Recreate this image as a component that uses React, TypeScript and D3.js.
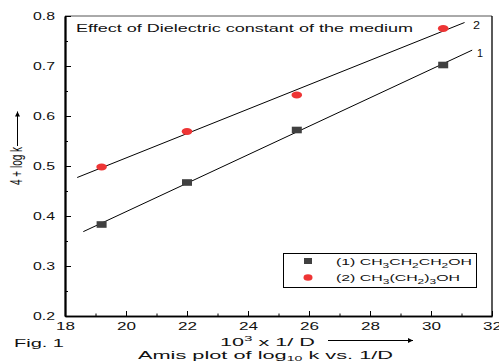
import React, { useEffect, useRef } from "react";
import * as d3 from "d3";

// 10^3 x 1/D for the solvent mixtures
const invD = [19.2, 22.0, 25.6, 30.4];
// 4 + log k
const propanol = [0.383, 0.467, 0.572, 0.702];
const butanol = [0.498, 0.569, 0.642, 0.775];
// x range over which the fitted lines are drawn
const fitRange1 = [18.6, 31.35];
const fitRange2 = [18.4, 31.1];

const xTicks = [18, 20, 22, 24, 26, 28, 30, 32];
const xMinor = [19, 21, 23, 25, 27, 29, 31];
const yTicks = [0.2, 0.3, 0.4, 0.5, 0.6, 0.7, 0.8];
const yMinor = [0.25, 0.35, 0.45, 0.55, 0.65, 0.75];

const FONT = "'Liberation Sans', Arial, sans-serif";

const fit = (xs: number[], ys: number[]) => {
  const mx = d3.mean(xs) as number;
  const my = d3.mean(ys) as number;
  const sxy = d3.sum(xs, (x, i) => (x - mx) * (ys[i] - my));
  const sxx = d3.sum(xs, (x) => (x - mx) * (x - mx));
  const slope = sxy / sxx;
  return { slope, intercept: my - slope * mx };
};

const App: React.FC = () => {
  const ref = useRef<SVGSVGElement | null>(null);

  useEffect(() => {
    const svg = d3.select(ref.current);
    svg.selectAll("*").remove();

    const left = 65, right = 492, top = 16, bottom = 316;
    const x = d3.scaleLinear().domain([18, 32]).range([left, right]);
    const y = d3.scaleLinear().domain([0.2, 0.8]).range([bottom, top]);

    svg
      .append("defs")
      .append("marker")
      .attr("id", "ah")
      .attr("viewBox", "0 0 10 10")
      .attr("refX", 10)
      .attr("refY", 5)
      .attr("markerWidth", 10)
      .attr("markerHeight", 5)
      .attr("markerUnits", "userSpaceOnUse")
      .attr("orient", "auto")
      .append("path")
      .attr("d", "M0,0L10,5L0,10z")
      .attr("fill", "#000");

    // frame
    svg.append("line").attr("x1", left).attr("x2", right).attr("y1", top).attr("y2", top)
      .attr("stroke", "#555").attr("stroke-width", 1);
    svg.append("line").attr("x1", right).attr("x2", right).attr("y1", top).attr("y2", bottom)
      .attr("stroke", "#000").attr("stroke-width", 1.3);

    // x axis
    const gx = svg.append("g").attr("transform", `translate(0,${bottom})`);
    gx.call(
      d3.axisBottom(x).tickValues(xTicks).tickSizeInner(-5).tickSizeOuter(0).tickPadding(7)
        .tickFormat(d3.format("d"))
    );
    gx.append("g").call(
      d3.axisBottom(x).tickValues(xMinor).tickSizeInner(-2.5).tickSizeOuter(0).tickFormat(() => "")
    );
    gx.selectAll(".domain").attr("stroke-width", 1.6);
    gx.selectAll("text")
      .attr("font-family", FONT).attr("font-size", 10).attr("fill", "#111")
      .attr("textLength", 19).attr("lengthAdjust", "spacingAndGlyphs");

    // y axis
    const gy = svg.append("g").attr("transform", `translate(${left},0)`);
    gy.call(
      d3.axisLeft(y).tickValues(yTicks).tickSizeInner(-6).tickSizeOuter(0).tickPadding(10)
        .tickFormat(d3.format(".1f"))
    );
    gy.append("g").call(
      d3.axisLeft(y).tickValues(yMinor).tickSizeInner(-3).tickSizeOuter(0).tickFormat(() => "")
    );
    gy.selectAll(".domain").attr("stroke-width", 1.8);
    gy.selectAll("text")
      .attr("font-family", FONT).attr("font-size", 10).attr("fill", "#111")
      .attr("textLength", 22).attr("lengthAdjust", "spacingAndGlyphs");

    // fitted lines
    const drawFit = (xs: number[], ys: number[], range: number[]) => {
      const f = fit(xs, ys);
      svg.append("line")
        .attr("x1", x(range[0])).attr("y1", y(f.intercept + f.slope * range[0]))
        .attr("x2", x(range[1])).attr("y2", y(f.intercept + f.slope * range[1]))
        .attr("stroke", "#000").attr("stroke-width", 1);
    };
    drawFit(invD, propanol, fitRange1);
    drawFit(invD, butanol, fitRange2);

    // markers
    svg.append("g").selectAll("rect").data(invD).join("rect")
      .attr("x", (d) => x(d) - 5).attr("y", (d, i) => y(propanol[i]) - 3.3)
      .attr("width", 10).attr("height", 6.6).attr("fill", "#404040");
    svg.append("g").selectAll("ellipse").data(invD).join("ellipse")
      .attr("cx", (d) => x(d)).attr("cy", (d, i) => y(butanol[i]))
      .attr("rx", 5.3).attr("ry", 3.4).attr("fill", "#ee3535");

    const text = (tx: number, ty: number, s: string, size: number, len: number) =>
      svg.append("text").attr("x", tx).attr("y", ty).text(s)
        .attr("font-family", FONT).attr("font-size", size).attr("fill", "#111")
        .attr("textLength", len).attr("lengthAdjust", "spacingAndGlyphs");

    text(76, 32, "Effect of Dielectric constant of the medium", 11, 337);
    text(473, 29, "2", 10, 7);
    text(477, 57, "1", 10, 6);
    text(14, 347, "Fig. 1", 11, 50);

    // legend
    svg.append("rect").attr("x", 283.5).attr("y", 253.5).attr("width", 193).attr("height", 34)
      .attr("fill", "#fff").attr("stroke", "#000").attr("stroke-width", 1);
    svg.append("rect").attr("x", 304).attr("y", 258).attr("width", 8).attr("height", 6).attr("fill", "#404040");
    svg.append("ellipse").attr("cx", 308).attr("cy", 277.5).attr("rx", 4.5).attr("ry", 3.2).attr("fill", "#ee3535");

    const sub = (t: d3.Selection<SVGTextElement, unknown, null, undefined>, parts: [string, boolean][]) => {
      parts.forEach(([s, isSub], i) => {
        const prevSub = i > 0 && parts[i - 1][1];
        const ts = t.append("tspan").text(s);
        if (isSub) ts.attr("dy", 2.5).attr("font-size", "0.75em");
        else if (prevSub) ts.attr("dy", -2.5);
      });
    };
    const leg = (ty: number, len: number, parts: [string, boolean][]) => {
      const t = svg.append("text").attr("x", 336).attr("y", ty)
        .attr("font-family", FONT).attr("font-size", 9.5).attr("fill", "#111")
        .attr("textLength", len).attr("lengthAdjust", "spacingAndGlyphs");
      sub(t, parts);
    };
    leg(265, 136, [["(1) CH", false], ["3", true], ["CH", false], ["2", true], ["CH", false], ["2", true], ["OH", false]]);
    leg(281, 124, [["(2) CH", false], ["3", true], ["(CH", false], ["2", true], [")", false], ["3", true], ["OH", false]]);

    // x label
    const xl = svg.append("text").attr("x", 220).attr("y", 346)
      .attr("font-family", FONT).attr("font-size", 11).attr("fill", "#111")
      .attr("textLength", 95).attr("lengthAdjust", "spacingAndGlyphs");
    xl.append("tspan").text("10");
    xl.append("tspan").text("3").attr("dy", -5).attr("font-size", "0.7em");
    xl.append("tspan").text(" x 1/ D").attr("dy", 5);
    svg.append("line").attr("x1", 328).attr("x2", 413).attr("y1", 340.5).attr("y2", 340.5)
      .attr("stroke", "#000").attr("stroke-width", 1).attr("marker-end", "url(#ah)");

    const cap = svg.append("text").attr("x", 138).attr("y", 358.5)
      .attr("font-family", FONT).attr("font-size", 11.5).attr("fill", "#111")
      .attr("textLength", 255).attr("lengthAdjust", "spacingAndGlyphs");
    cap.append("tspan").text("Amis plot of log");
    cap.append("tspan").text("10").attr("dy", 2.5).attr("font-size", "0.65em");
    cap.append("tspan").text(" k vs. 1/D").attr("dy", -2.5);

    // y label
    svg.append("text")
      .attr("transform", "translate(22,185) scale(1.6,1) rotate(-90)")
      .attr("font-family", FONT).attr("font-size", 10).attr("fill", "#111")
      .attr("textLength", 38).attr("lengthAdjust", "spacingAndGlyphs")
      .text("4 + log k");
    svg.append("line").attr("x1", 17.5).attr("x2", 17.5).attr("y1", 146).attr("y2", 111.5)
      .attr("stroke", "#000").attr("stroke-width", 1).attr("marker-end", "url(#ah)");
  }, []);

  return (
    <svg
      ref={ref}
      width={499}
      height={363}
      style={{ position: "absolute", left: 0, top: 0, background: "#fff" }}
    />
  );
};

export default App;
